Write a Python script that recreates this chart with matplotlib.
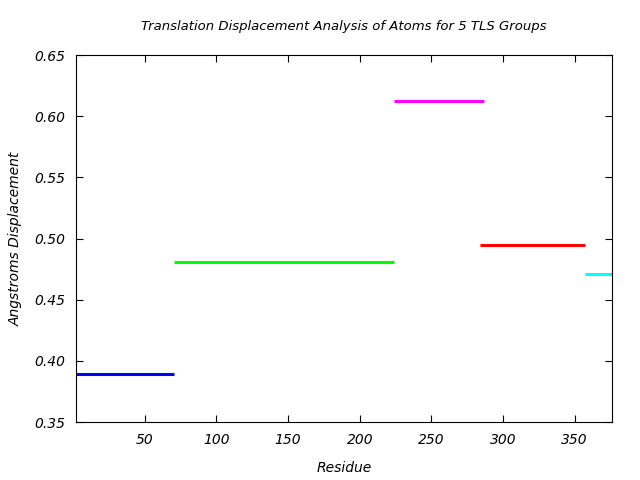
import matplotlib
matplotlib.use('Agg')
import matplotlib.pyplot as plt

# TLS group segments: residue start, residue end, displacement
starts = [2, 70.5, 224, 284, 357]
ends = [70.5, 224, 287, 357, 376]
disp = [0.389, 0.481, 0.612, 0.495, 0.471]
colors = ['#0000ff', '#00ff00', '#ff00ff', '#ff0000', '#00ffff']

xticks = [50, 100, 150, 200, 250, 300, 350]
yticks = [0.35, 0.40, 0.45, 0.50, 0.55, 0.60, 0.65]

plt.rcParams['font.family'] = ['DejaVu Sans']
fig = plt.figure(figsize=(6.4, 4.8), dpi=100, facecolor='white')
ax = fig.add_axes([0.11875, 0.1208, 0.8375, 0.7646])

for x0, x1, y, c in zip(starts, ends, disp, colors):
    ax.plot([x0, x1], [y, y], color=c, lw=2.2, solid_capstyle='butt')

ax.set_xlim(2, 376)
ax.set_ylim(0.35, 0.65)
ax.set_xticks(xticks)
ax.set_yticks(yticks)
ax.set_yticklabels(['%.2f' % v for v in yticks])
ax.tick_params(direction='in', length=5, top=True, right=True, labelsize=10, pad=8)
for lab in ax.get_xticklabels() + ax.get_yticklabels():
    lab.set_fontstyle('italic')

ax.set_xlabel('Residue', fontsize=10, style='italic', labelpad=10)
ax.set_ylabel('Angstroms Displacement', fontsize=10, style='italic', labelpad=8)
ax.set_title('Translation Displacement Analysis of Atoms for 5 TLS Groups',
             fontsize=9.5, style='italic', pad=18)

fig.savefig('out.png', dpi=100)
